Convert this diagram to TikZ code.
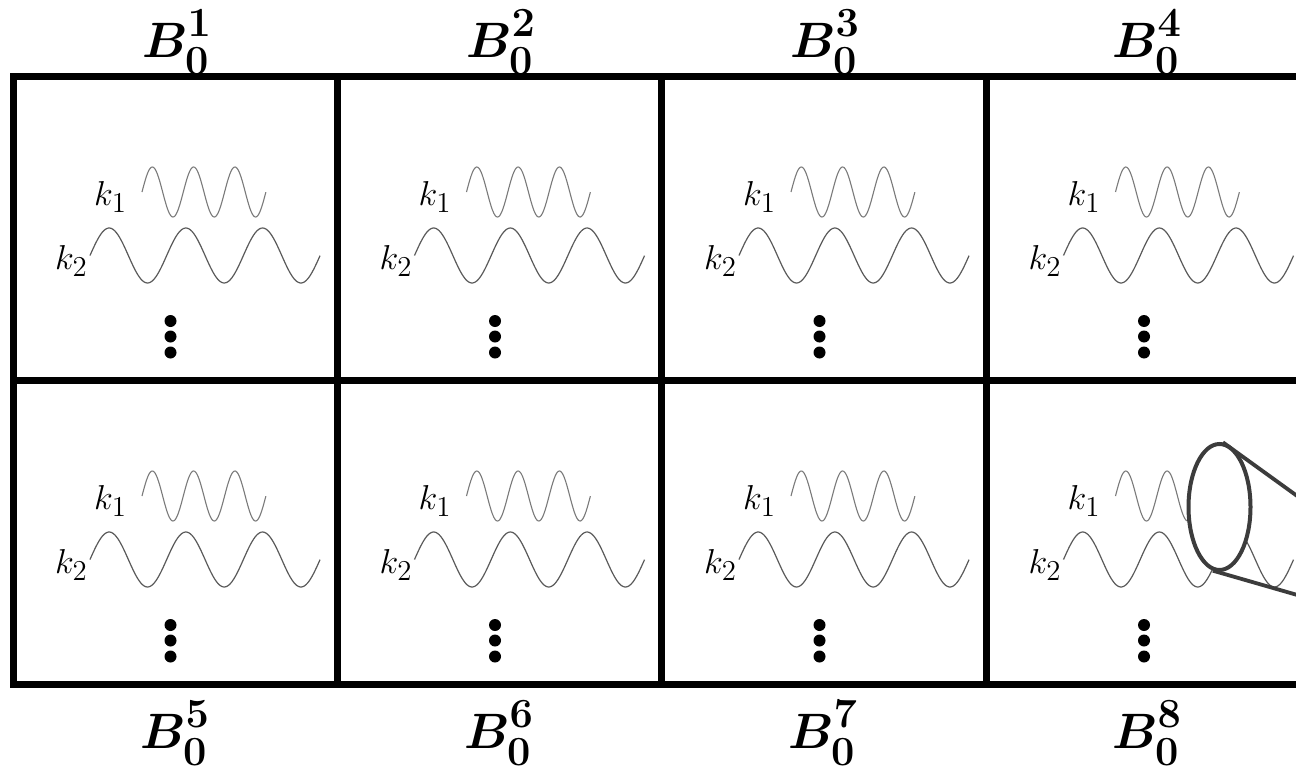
\documentclass[tikz,border=0pt]{standalone}
\usepackage{bm}
\usetikzlibrary{shapes.geometric}
\definecolor{lenscol}{HTML}{3C3C3C}
\definecolor{waveA}{HTML}{7A7A7A}
\definecolor{waveB}{HTML}{5A5A5A}
\newcommand{\blab}[1]{$\bm{B}^{\raisebox{1.5pt}{$\scriptstyle\bm{#1}$}}_{\raisebox{-2pt}{$\scriptstyle\bm{0}$}}$}
\begin{document}
\begin{tikzpicture}[x=0.5pt,y=-0.5pt,
  gridline/.style={line width=3.5pt},
  waveone/.style={draw=waveA, line width=0.55pt},
  wavetwo/.style={draw=waveB, line width=0.6pt},
  klabel/.style={inner sep=0pt, font=\fontsize{19}{21}\selectfont},
  blabel/.style={inner sep=0pt, font=\fontsize{28}{32}\selectfont},
  vdot/.style={circle, fill=black, inner sep=0pt, minimum size=6pt},
  lens/.style={ellipse, draw=lenscol, line width=2pt, fill=white, inner sep=0pt, minimum width=31pt, minimum height=63pt},
  cone/.style={draw=lenscol, line width=1.9pt}]
\useasboundingbox (0,0) rectangle (1296,771);
\clip (0,0) rectangle (1296,771);
\fill[white] (0,0) rectangle (1296,771);
% cell contents
\foreach \c in {0,1,2,3}{
  \foreach \r in {0,1}{
    \pgfmathsetmacro{\X}{13+324.5*\c}
    \pgfmathsetmacro{\Y}{76+304*\r}
    \draw[waveone] plot[domain=0:3, samples=150] ({\X+129+41.3*\x},{\Y+116-25*sin(360*\x)});
    \draw[wavetwo] plot[domain=0:3, samples=150] ({\X+77+76.7*\x},{\Y+179.5-27.5*sin(360*\x)});
    \node[klabel] (ka-\c-\r) at (\X+97.5,\Y+121) {$k_1$};
    \node[klabel] (kb-\c-\r) at (\X+58.5,\Y+185) {$k_2$};
    \node[vdot] (da-\c-\r) at (\X+157.5,\Y+245) {};
    \node[vdot] (db-\c-\r) at (\X+157.5,\Y+260.5) {};
    \node[vdot] (dc-\c-\r) at (\X+157.5,\Y+276.5) {};
  }
}
% grid
\draw[gridline] (13,76) rectangle (1311,684.5);
\draw[gridline] (13,380) -- (1311,380);
\draw[gridline] (337.5,76) -- (337.5,684.5);
\draw[gridline] (661.5,76) -- (661.5,684.5);
\draw[gridline] (986.5,76) -- (986.5,684.5);
% labels
\node[blabel] (b1) at (177,42) {\blab{1}};
\node[blabel] (b2) at (501,42) {\blab{2}};
\node[blabel] (b3) at (825,42) {\blab{3}};
\node[blabel] (b4) at (1147,42) {\blab{4}};
\node[blabel] (b5) at (175,733) {\blab{5}};
\node[blabel] (b6) at (499,733) {\blab{6}};
\node[blabel] (b7) at (823,733) {\blab{7}};
\node[blabel] (b8) at (1147,733) {\blab{8}};
% magnifier
\node[lens] (lensnode) at (1219.5,507) {};
\coordinate (coneu) at (1330,519.7);
\coordinate (conel) at (1330,604.4);
\draw[cone] (lensnode.87) -- (coneu);
\draw[cone] (lensnode.264) -- (conel);
\end{tikzpicture}
\end{document}
